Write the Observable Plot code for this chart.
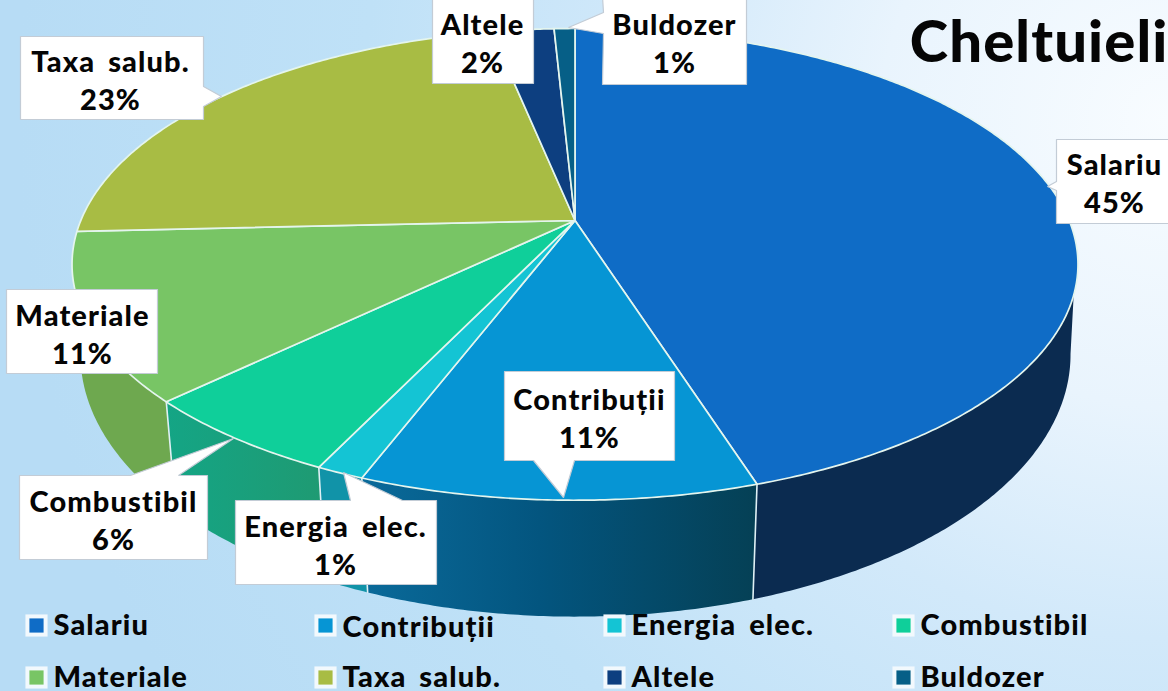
<!DOCTYPE html>
<html>
<head>
<meta charset="utf-8">
<script src="https://cdn.jsdelivr.net/npm/d3@7"></script>
<script src="https://cdn.jsdelivr.net/npm/@observablehq/plot@0.6"></script>
<style>
html,body{margin:0;padding:0;width:1168px;height:691px;overflow:hidden;
background:radial-gradient(circle 1150px at 1168px 120px,#f8fcff 0%,#e9f4fd 25%,#d2e9fa 45%,#bfe1f7 70%,#b7dcf5 100%);}
svg{display:block}
svg text{letter-spacing:1.1px;word-spacing:5px}
</style>
</head>
<body>
<script>
// Data
const categories = ["Salariu","Contribuții","Energia elec.","Combustibil","Materiale","Taxa salub.","Altele","Buldozer"];
const percentLabels = [45,11,1,6,11,23,2,1];
// Slice sizes as drawn (perspective-corrected reading of the rim)
const sliceShares = [45.1,10.7,1.3,5.7,11.45,22.55,2.4,0.8];
const topColors = ["#0f6cc6","#0695d4","#14c4d4","#0fcf9a","#78c565","#a8bc44","#0d3f80","#065f87"];
const wallColors = ["#0b2b50","url(#wallContrib)","#1193a8","url(#wallComb)","#6ea84f",null,null,null];

// Perspective layout of the disc
const topDisc = {cx:574.5, cy:220, A:227.7, B:494.2, k:0.186};
const baseDisc = {cx:575, cy:308, A:253.9, B:487.3, k:0.176};
function rim(d, deg){
  const a = deg*Math.PI/180, c = Math.cos(a), s = Math.sin(a), q = 1 + d.k*c;
  return {x: d.cx + d.B*s/q, y: d.cy - d.A*c/q};
}
function arc(d, a0, a1){
  const n = Math.max(2, Math.ceil(Math.abs(a1-a0)/0.5)), out = [];
  for(let i=0;i<=n;i++) out.push(rim(d, a0+(a1-a0)*i/n));
  return out;
}
// Cumulative angles
const total = d3.sum(sliceShares);
const edges = [0, ...d3.cumsum(sliceShares).map(v => v/total*360)];

// Callout layout: box and pointer
const callouts = [
  {i:5,x0:20,x1:203,y0:36,y1:119,tx:110,ty:78,p:[[203,86],[221,96],[203,106]],side:"r"},
  {i:6,x0:432,x1:533,y0:-4,y1:83,tx:482,ty:41,p:[]},
  {i:7,x0:602,x1:746,y0:-4,y1:84,tx:674,ty:41,p:[[603,12],[568,27],[603,33]],side:"l"},
  {i:0,x0:1056,x1:1172,y0:139,y1:223,tx:1114,ty:181,p:[[1056,181],[1047,186],[1056,190]],side:"l"},
  {i:4,x0:6,x1:157,y0:289,y1:373,tx:82,ty:332,p:[]},
  {i:1,x0:504,x1:674,y0:371,y1:460,tx:589,ty:416,p:[[574,460],[563,497],[533,460]],side:"b"},
  {i:3,x0:19,x1:207,y0:475,y1:559,tx:113,ty:518,p:[[130,475],[233,438],[178,475]],side:"t"},
  {i:2,x0:235,x1:436,y0:500,y1:584,tx:335,ty:543,p:[[350,500],[343,472],[402,500]],side:"t"}
];
function calloutPath(c){
  const {x0,x1,y0,y1,p,side} = c;
  if(side==="t") return [[x0,y0],...p,[x1,y0],[x1,y1],[x0,y1]];
  if(side==="r") return [[x0,y0],[x1,y0],...p,[x1,y1],[x0,y1]];
  if(side==="b") return [[x0,y0],[x1,y0],[x1,y1],...p,[x0,y1]];
  if(side==="l") return [[x0,y0],[x1,y0],[x1,y1],[x0,y1],...p.slice().reverse()];
  return [[x0,y0],[x1,y0],[x1,y1],[x0,y1]];
}

// Legend layout
const legendX = [36,325,614,903];
const legendY = [625,677];
const legendBase = [
  [636,638,636,636],
  [688,688,688,688]
];
const legend = categories.map((name,i)=>{
  const col = i%4, row = Math.floor(i/4);
  return {name, color: topColors[i], sx: legendX[col], sy: legendY[row], tx: legendX[col]+17, ty: legendBase[row][col]};
});

const FONT = "Lato";
const marks = [];

// Gradient defs
marks.push(() => {
  const ns = "http://www.w3.org/2000/svg";
  const defs = document.createElementNS(ns,"defs");
  defs.innerHTML = `
   <linearGradient id="wallContrib" x1="0" x2="1" y1="0" y2="0">
     <stop offset="0" stop-color="#0a6a9a"/><stop offset="0.45" stop-color="#03557f"/><stop offset="1" stop-color="#054055"/>
   </linearGradient>
   <linearGradient id="wallComb" x1="0" x2="1" y1="0" y2="0">
     <stop offset="0" stop-color="#14a585"/><stop offset="1" stop-color="#1f9a72"/>
   </linearGradient>`;
  return defs;
});

// Side walls (only the slices that face the viewer)
const wallRanges = [[108,edges[1],100,edges[1]],[edges[1],edges[2]],[edges[2],edges[3]],[edges[3],edges[4]],[edges[4],252,edges[4],260]];
wallRanges.forEach((r,i)=>{
  const topA = r[0], topB = r[1], baseA = r[2] ?? r[0], baseB = r[3] ?? r[1];
  const poly = [...arc(topDisc,topA,topB), ...arc(baseDisc,baseB,baseA)];
  marks.push(Plot.line(poly,{x:"x",y:"y",fill:wallColors[i],stroke:"none"}));
});
// Wall dividers
[edges[1],edges[2],edges[3],edges[4]].forEach(a=>{
  marks.push(Plot.line([rim(topDisc,a),rim(baseDisc,a)],{x:"x",y:"y",stroke:"#dff0f5",strokeWidth:1.6}));
});

// Top faces
categories.forEach((_,i)=>{
  const poly = [{x:topDisc.cx,y:topDisc.cy}, ...arc(topDisc,edges[i],edges[i+1]), {x:topDisc.cx,y:topDisc.cy}];
  marks.push(Plot.line(poly,{x:"x",y:"y",fill:topColors[i],stroke:"#e4f5ee",strokeWidth:1.7,strokeLinejoin:"round"}));
});

// Callouts
callouts.forEach(c=>{
  const pts = calloutPath(c).map(([x,y])=>({x,y}));
  pts.push(pts[0]);
  marks.push(Plot.line(pts,{x:"x",y:"y",fill:"white",stroke:"#c3ccd6",strokeWidth:1.2,strokeLinejoin:"miter"}));
});
marks.push(Plot.text(callouts,{
  x:"tx",y:"ty",
  text:c=>`${categories[c.i]}\n${percentLabels[c.i]}%`,
  fontFamily:FONT,fontWeight:900,fontSize:29,lineHeight:1.31,fill:"#050505",
  textAnchor:"middle",lineAnchor:"middle"
}));

// Legend
marks.push(Plot.dot(legend,{x:"sx",y:"sy",symbol:"square",r:12.5,fill:"#f2f9fd",stroke:"none"}));
marks.push(Plot.dot(legend,{x:"sx",y:"sy",symbol:"square",r:8,fill:"color",stroke:"none"}));
marks.push(Plot.text(legend,{x:"tx",y:"ty",text:"name",fontFamily:FONT,fontWeight:900,fontSize:29,fill:"#050505",textAnchor:"start",lineAnchor:"bottom",dy:-2}));

// Title
marks.push(Plot.text(["Cheltuieli"],{x:()=>1168,y:()=>60,fontFamily:FONT,fontWeight:900,fontSize:58,fill:"#050505",textAnchor:"end",lineAnchor:"bottom",dy:1}));

const chart = Plot.plot({
  width:1168,height:691,margin:0,
  style:{background:"transparent",overflow:"hidden"},
  x:{domain:[0,1168],range:[0,1168],axis:null},
  y:{domain:[0,691],range:[0,691],axis:null},
  color:{type:"identity"},
  marks
});
document.body.appendChild(chart);
</script>
</body>
</html>
